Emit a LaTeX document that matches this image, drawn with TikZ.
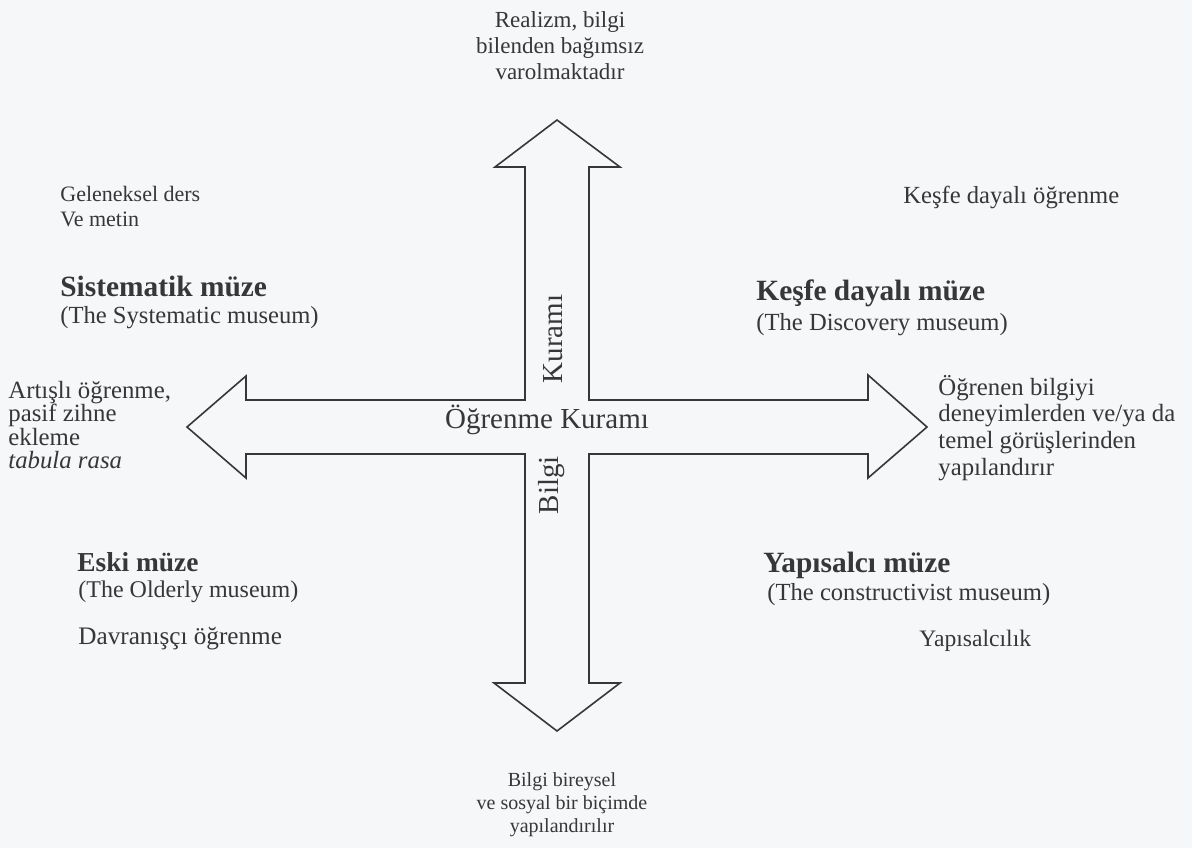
\documentclass[tikz,border=0pt]{standalone}
\usepackage{fontspec}
\setmainfont{Liberation Serif}
\definecolor{paper}{RGB}{245,247,248}
\definecolor{ink}{RGB}{55,55,55}
\begin{document}
\begin{tikzpicture}[x = 0.5pt, y = -0.5pt, line join = miter,
	note/.style = {inner sep = 0pt, text = ink, font = \fontsize{12.3}{13.4}\selectfont},
	title/.style = {inner sep = 0pt, text = ink, font = \fontsize{14.7}{16}\selectfont\bfseries},
	axis/.style = {inner sep = 0pt, text = ink, font = \fontsize{14.5}{16}\selectfont}]
	\fill[paper] (0,0) rectangle (1192,848);
	\useasboundingbox (0,0) rectangle (1192,848);
	\draw[ink, line width = 0.8pt] (557,120) -- (620,167) -- (589,167) -- (589,400) -- (868,400) -- (868,375) -- (927,427) -- (868,478) -- (868,454) -- (589,454) -- (589,683) -- (620,683) -- (557,731) -- (494,683) -- (525,683) -- (525,454) -- (246,454) -- (246,478) -- (187,427) -- (246,376) -- (246,400) -- (525,400) -- (525,167) -- (495,167) -- cycle;
	\node (real)	at (560, 46)	[note, font = \fontsize{11.5}{13}\selectfont, align = center]	{Realizm, bilgi\\bilenden bağımsız\\varolmaktadır};
	\node (gelen)	at (60, 207)	[note, font = \fontsize{11}{12.5}\selectfont, align = left, anchor = west]	{Geleneksel ders\\Ve metin};
	\node (kesfe)	at (903, 203)	[note, anchor = base west]	{Keşfe dayalı öğrenme};
	\node (sist)	at (60, 296)	[title, anchor = base west]	{Sistematik müze};
	\node (sisten)	at (60, 323)	[note, anchor = base west]	{(The Systematic museum)};
	\node (kmuze)	at (756, 300)	[title, anchor = base west]	{Keşfe dayalı müze};
	\node (kmuzeen)	at (756, 330)	[note, anchor = base west]	{(The Discovery museum)};
	\node (artis)	at (8, 425)	[note, font = \fontsize{12.4}{11.6}\selectfont, align = left, anchor = west]	{Artışlı öğrenme,\\pasif zihne\\ekleme\\\textit{tabula rasa}};
	\node (ogren)	at (938, 428)	[note, font = \fontsize{12.4}{13.4}\selectfont, align = left, anchor = west]	{Öğrenen bilgiyi\\deneyimlerden ve/ya da\\temel görüşlerinden\\yapılandırır};
	\node (kuram)	at (547, 428)	[axis, anchor = base]	{Öğrenme Kuramı};
	\node (bkur)	at (553, 339)	[axis, rotate = 90]	{Kuramı};
	\node (bbil)	at (552, 485)	[axis, rotate = 90]	{Bilgi};
	\node (eski)	at (77, 571)	[title, font = \fontsize{13.7}{15}\selectfont\bfseries, anchor = base west]	{Eski müze};
	\node (eskien)	at (78, 597)	[note, font = \fontsize{12}{13}\selectfont, anchor = base west]	{(The Olderly museum)};
	\node (davr)	at (78, 644)	[note, font = \fontsize{12.6}{13.6}\selectfont, anchor = base west]	{Davranışçı öğrenme};
	\node (yapi)	at (763, 572)	[title, anchor = base west]	{Yapısalcı müze};
	\node (yapien)	at (767, 600)	[note, anchor = base west]	{(The constructivist museum)};
	\node (yapic)	at (919, 646)	[note, font = \fontsize{11.8}{13}\selectfont, anchor = base west]	{Yapısalcılık};
	\node (bire)	at (562, 805)	[note, font = \fontsize{10}{11.5}\selectfont, align = center]	{Bilgi bireysel\\ve sosyal bir biçimde\\yapılandırılır};
\end{tikzpicture}
\end{document}
